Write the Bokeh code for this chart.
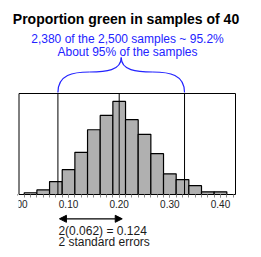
import numpy as np
from bokeh.plotting import figure
from bokeh.models import Range1d, LinearAxis, FixedTicker, Arrow, NormalHead, NumeralTickFormatter, Label
from bokeh.core.properties import value
from bokeh.embed import file_html
from bokeh.resources import INLINE

# ---------------- data ----------------
title_text = "Proportion green in samples of 40"
proportions = [0.025, 0.050, 0.075, 0.100, 0.125, 0.150, 0.175, 0.200,
               0.225, 0.250, 0.275, 0.300, 0.325, 0.350, 0.375, 0.400]
counts = [8, 21, 59, 113, 192, 295, 360, 424, 341, 274, 186, 94, 68, 40, 12, 12]
bin_width = 0.025
interval_lo = 0.079
interval_hi = 0.329
center_value = 0.20
std_error = 0.062
arrow_start = 0.082
note_lines = ["2,380 of the 2,500 samples ~ 95.2%", "About 95% of the samples"]
se_lines = ["2(0.062) = 0.124", "2 standard errors"]
tick_values = [0.0, 0.1, 0.2, 0.3, 0.4]
y_max = 460

# ---------------- geometry ----------------
W, H = 261, 257
PX_PER_UNIT = 506.5
X0_PX = 17.4          # pixel of proportion 0
BASE_PX, TOP_PX = 194, 93
CNT_PER_PX = y_max / (BASE_PX - TOP_PX)


def X(px):
    return (px - X0_PX) / PX_PER_UNIT


def Y(py):
    return (BASE_PX - py) * CNT_PER_PX


x_start = X(0)
x_end = X(W)
y_start = Y(H)
y_end = Y(0)

FONT = "Liberation Sans"
BLUE = "#2323ff"

p = figure(width=W, height=H, x_range=Range1d(x_start, x_end), y_range=Range1d(y_start, y_end),
           title=None, output_backend="svg", toolbar_location=None, x_axis_location=None,
           y_axis_location=None, min_border=0, outline_line_color=None,
           background_fill_color="white", border_fill_color="white")
p.xgrid.visible = False
p.ygrid.visible = False

# x axis at count 0
ax = LinearAxis(fixed_location=0, bounds=(0, X(235)))
ax.ticker = FixedTicker(ticks=tick_values, minor_ticks=list(np.arange(0, 0.43, 0.0125)))
ax.formatter = NumeralTickFormatter(format="0.00")
ax.axis_line_color = None
ax.major_tick_in = 0
ax.major_tick_out = 3
ax.minor_tick_in = 0
ax.minor_tick_out = 3
ax.major_tick_line_color = "#8a8a8a"
ax.minor_tick_line_color = "#8a8a8a"
ax.major_label_text_font = FONT
ax.major_label_text_font_size = "10px"
ax.major_label_text_color = "#222222"
ax.major_label_standoff = 2
p.add_layout(ax, "below")

# bars
p.vbar(x=proportions, width=bin_width, top=counts, bottom=0,
       fill_color="#b0b0b0", line_color="black", line_width=1.2)

# box
p.quad(left=[X(18.5)], right=[X(235)], bottom=[0], top=[y_max],
       fill_color=None, line_color="black", line_width=1)

# vertical reference lines
p.segment(x0=[interval_lo, center_value, interval_hi], y0=[0, 0, 0],
          x1=[interval_lo, center_value, interval_hi], y1=[y_max] * 3,
          line_color="black", line_width=1)

# curly brace over the interval
tip_x = (interval_lo + interval_hi) / 2
y_end_b, y_mid, y_tip = Y(92), Y(71.5), Y(57)
d = 0.03
half = [(interval_lo, 1), (interval_hi, -1)]
for xe, s in half:
    q = (xe + tip_x) / 2
    p.bezier(x0=[xe], y0=[y_end_b], x1=[q], y1=[y_mid],
             cx0=[xe], cy0=[Y(74)], cx1=[xe + s * d], cy1=[y_mid],
             line_color=BLUE, line_width=1.2)
    p.bezier(x0=[q], y0=[y_mid], x1=[tip_x], y1=[y_tip],
             cx0=[tip_x - s * d], cy0=[y_mid], cx1=[tip_x], cy1=[Y(70)],
             line_color=BLUE, line_width=1.2)

# texts
p.text(x=[X(125.5)], y=[Y(18.5)], text=[title_text], text_align="center",
       text_baseline="alphabetic", text_font=value(FONT), text_font_style="bold",
       text_font_size="14px", text_color="black")
p.text(x=[X(127)] * 2, y=[Y(38.5), Y(51.5)], text=note_lines, text_align="center",
       text_baseline="alphabetic", text_font=value(FONT), text_font_size="12px", text_color=BLUE)
for line, py in zip(se_lines, [230.5, 241.0]):
    p.add_layout(Label(x=arrow_start - 0.002, y=Y(py), text=line, text_align="left",
                       text_baseline="alphabetic", text_font=FONT,
                       text_font_size="12px", text_color="#1a1a1a"))

# arrow of two standard errors
head = dict(size=7, fill_color="black", line_color="black")
p.add_layout(Arrow(start=NormalHead(**head), end=NormalHead(**head),
                   x_start=arrow_start, y_start=Y(218.3),
                   x_end=arrow_start + 2 * std_error, y_end=Y(218.3),
                   line_color="black", line_width=1.2))

# the reference crops the first tick label at the box edge
p.quad(left=[x_start], right=[X(18)], bottom=[Y(214)], top=[Y(195)],
       fill_color="white", line_color=None, level="overlay")

open("out.html", "w").write(file_html(p, INLINE))
